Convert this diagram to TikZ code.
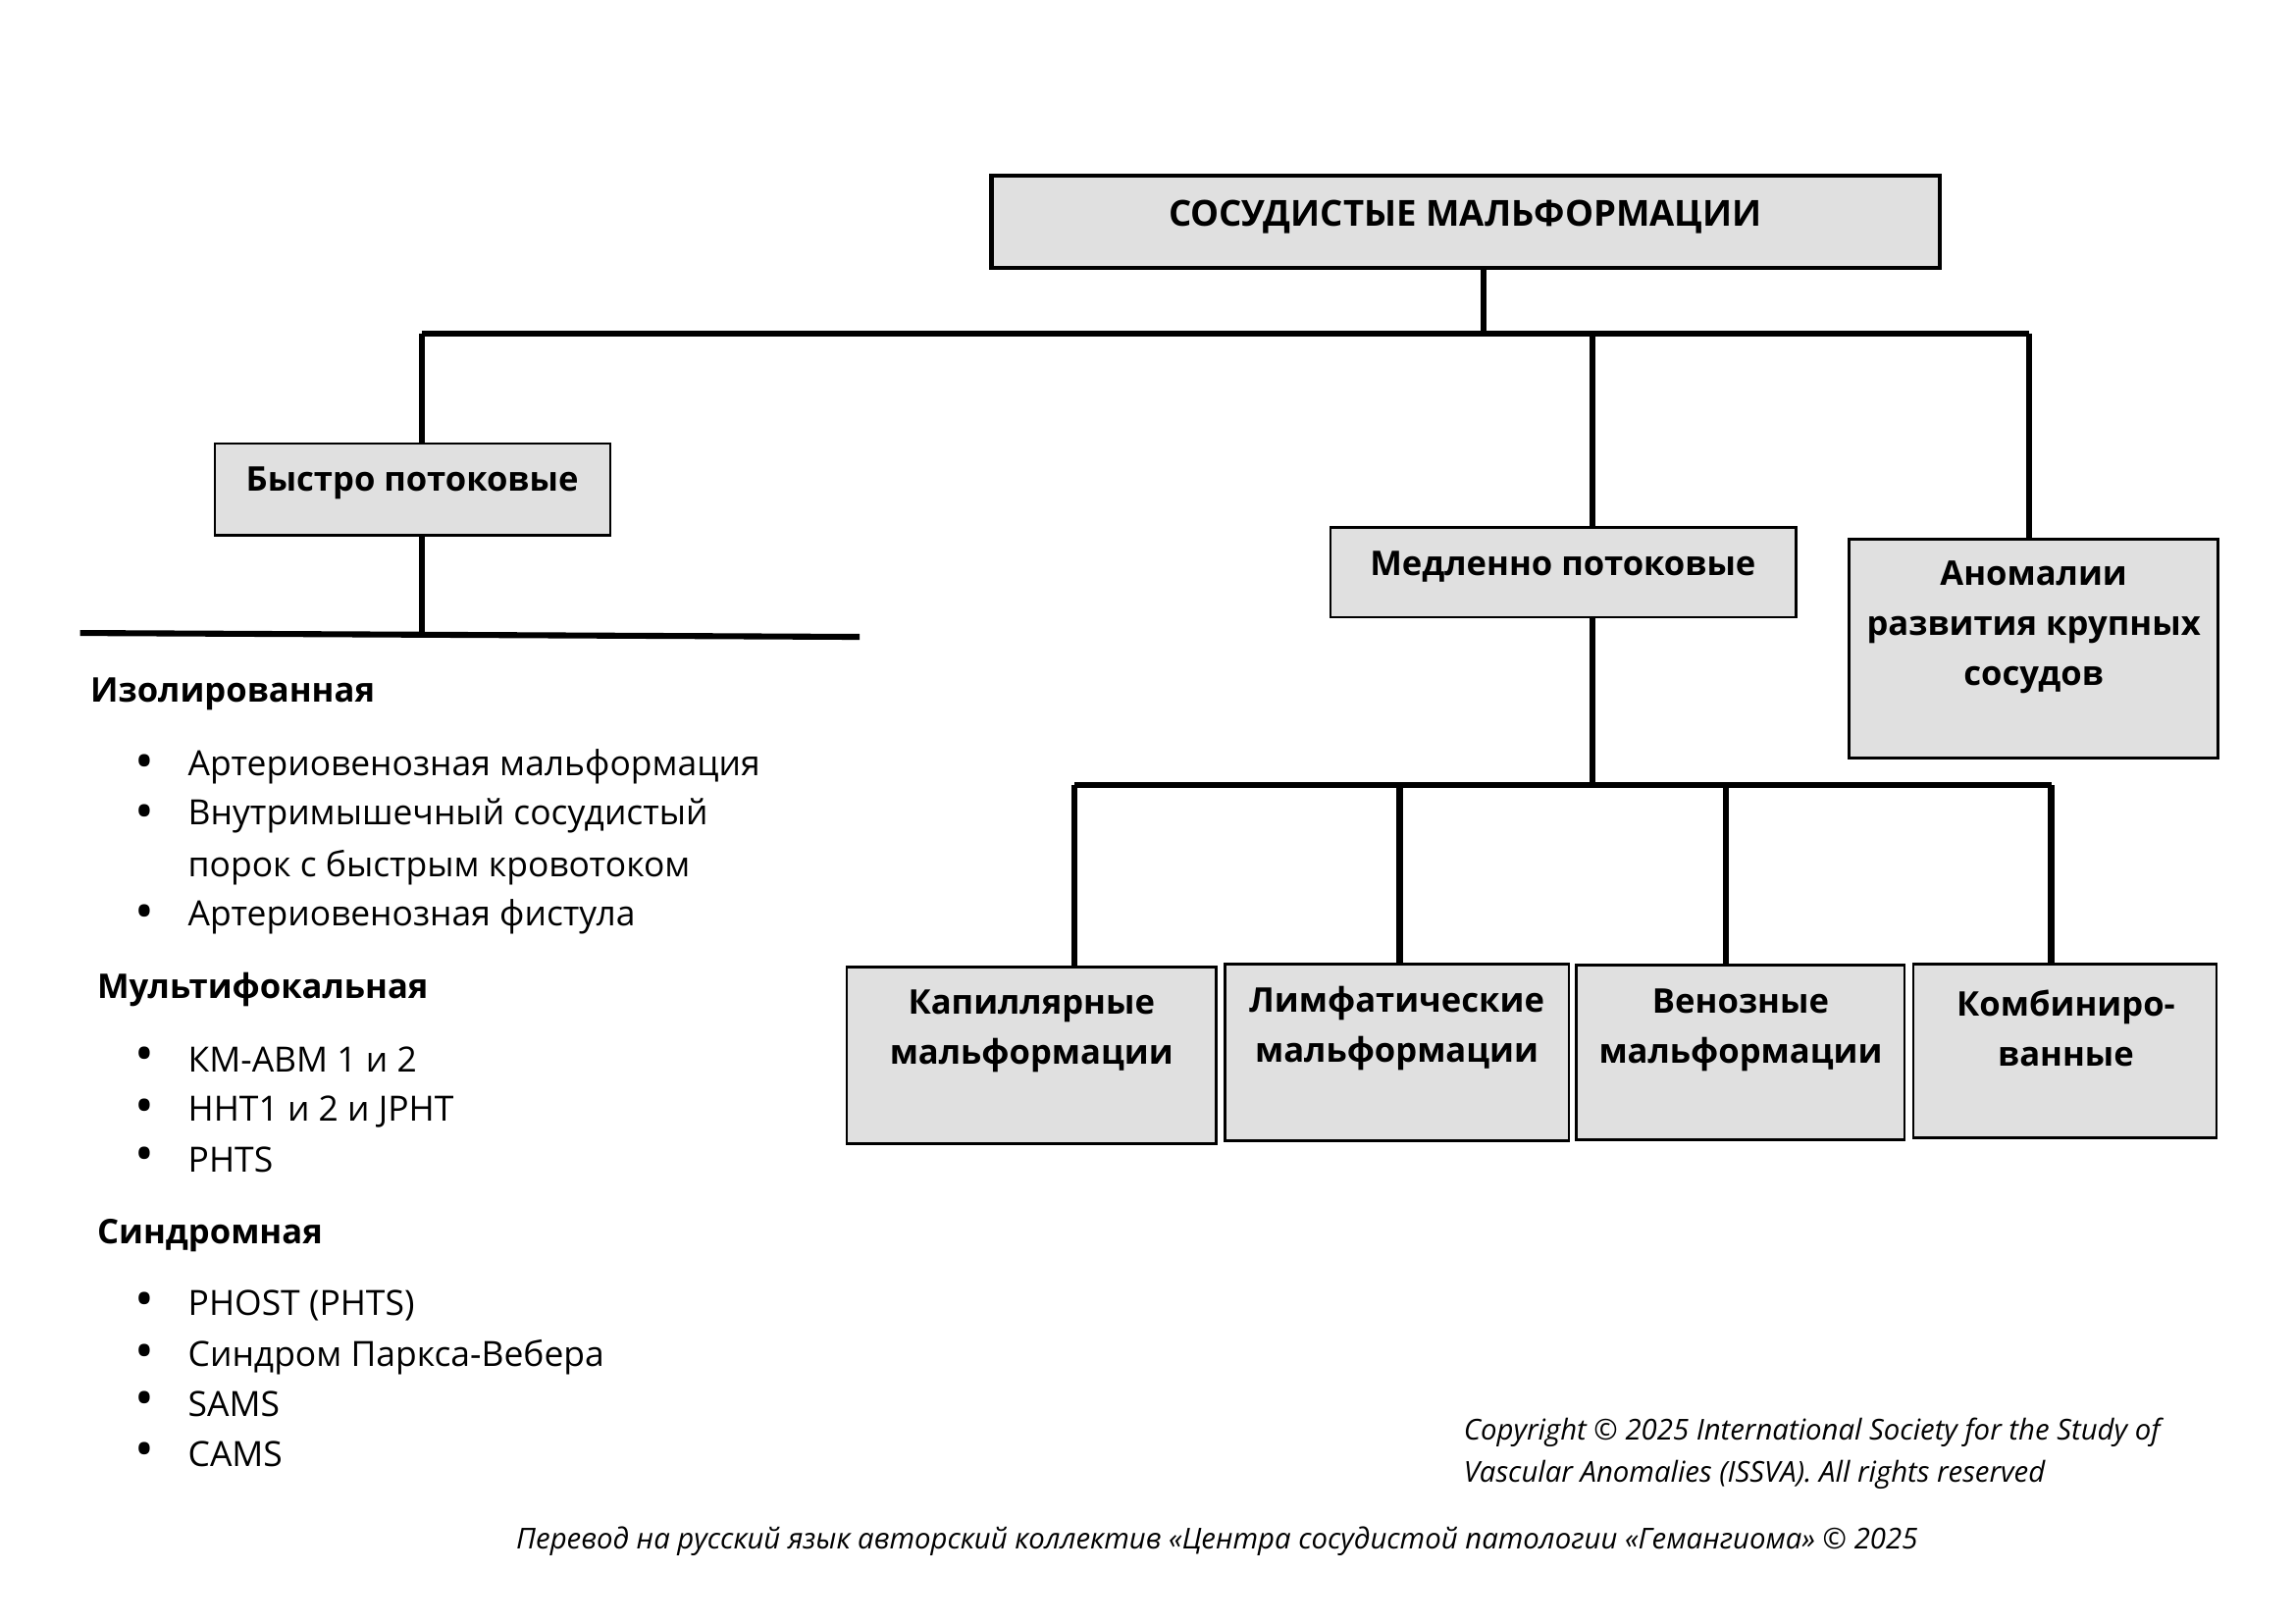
\documentclass[tikz,border=0pt]{standalone}
\usepackage{fontspec}
\setmainfont{Open Sans}
\usetikzlibrary{fit}
\definecolor{boxgray}{RGB}{224,224,224}
\tikzset{
  conn/.style={line width=2.2pt},
  box/.style={draw=black, fill=boxgray, line width=0.9pt, inner sep=0pt},
  topbox/.style={box, line width=1.6pt},
  boxtxt/.style={font=\bfseries\fontsize{12.5}{18.4}\selectfont, align=center, inner sep=0pt},
  roottxt/.style={boxtxt, font=\bfseries\fontsize{13.2}{18.4}\selectfont},
  head/.style={font=\bfseries\fontsize{12.5}{14}\selectfont, anchor=west, inner sep=0pt},
  item/.style={font=\fontsize{12.8}{19}\selectfont, anchor=west, align=left, inner sep=0pt},
  bul/.style={font=\fontsize{19}{20}\selectfont, inner sep=0pt},
  note/.style={font=\itshape\fontsize{10.6}{15.6}\selectfont, align=left, inner sep=0pt}
}
\begin{document}
\begin{tikzpicture}[x=0.0127cm, y=-0.0127cm]
\useasboundingbox (0,0) rectangle (2339,1654);
\begin{scope}[scale=0.9955]
% boxes
\node[topbox, fit={(1015,180)(1986,274)}] (root) {};
\node[roottxt] (rootT) at (1500,222) {СОСУДИСТЫЕ МАЛЬФОРМАЦИИ};
\node[box, fit={(220,454)(625,548)}] (fast) {};
\node[boxtxt] (fastT) at (422,495) {Быстро потоковые};
\node[box, fit={(1362,540)(1839,632)}] (slow) {};
\node[boxtxt] (slowT) at (1600,580) {Медленно потоковые};
\node[box, fit={(1893,552)(2271,776)}] (anom) {};
\node[boxtxt] (anomT) at (2082,642) {Аномалии\\развития крупных\\сосудов};
\node[box, fit={(867,990)(1245,1171)}] (cap) {};
\node[boxtxt] (capT) at (1056,1056) {Капиллярные\\мальформации};
\node[box, fit={(1254,987)(1606,1168)}] (lym) {};
\node[boxtxt] (lymT) at (1430,1053) {Лимфатические\\мальформации};
\node[box, fit={(1614,988)(1950,1167)}] (ven) {};
\node[boxtxt] (venT) at (1782,1055) {Венозные\\мальформации};
\node[box, fit={(1959,987)(2269,1165)}] (comb) {};
\node[boxtxt] (combT) at (2115,1053) {Комбиниро-\\ванные};
% connectors top
\coordinate (jT) at (1519,342);
\coordinate (jL) at (432,342);
\coordinate (jM) at (1630,342);
\coordinate (jR) at (2077,342);
\draw[conn] (root.south -| jT) -- (jT);
\draw[conn] (jL) -- (jR);
\draw[conn] (jL) -- (jL |- fast.north);
\draw[conn] (jM) -- (jM |- slow.north);
\draw[conn] (jR) -- (jR |- anom.north);
% fast-flow bar
\coordinate (barL) at (82,648);
\coordinate (barR) at (880,652);
\coordinate (barM) at (432,650);
\draw[conn] (fast.south -| barM) -- (barM);
\draw[conn] (barL) -- (barR);
% slow-flow bus
\coordinate (sM) at (1630,804);
\coordinate (b1) at (1100,804);
\coordinate (b2) at (1433,804);
\coordinate (b3) at (1767,804);
\coordinate (b4) at (2100,804);
\draw[conn] (slow.south -| sM) -- (sM);
\draw[conn] (b1) -- (b4);
\draw[conn] (b1) -- (b1 |- cap.north);
\draw[conn] (b2) -- (b2 |- lym.north);
\draw[conn] (b3) -- (b3 |- ven.north);
\draw[conn] (b4) -- (b4 |- comb.north);
% list
\node[head] (h1) at (92,710) {Изолированная};
\node[bul] (u1) at (148,785) {•};
\node[item] (i1) at (192,785) {Артериовенозная мальформация};
\node[bul] (u2) at (148,836) {•};
\node[item] (i2) at (192,862) {Внутримышечный сосудистый\\порок с быстрым кровотоком};
\node[bul] (u3) at (148,939) {•};
\node[item] (i3) at (192,939) {Артериовенозная фистула};
\node[head] (h2) at (99,1013) {Мультифокальная};
\node[bul] (u4) at (148,1085) {•};
\node[item] (i4) at (192,1085) {КМ-АВМ 1 и 2};
\node[bul] (u5) at (148,1138) {•};
\node[item] (i5) at (192,1138) {HHT1 и 2 и JPHT};
\node[bul] (u6) at (148,1187) {•};
\node[item] (i6) at (192,1187) {PHTS};
\node[head] (h3) at (99,1265) {Синдромная};
\node[bul] (u7) at (148,1336) {•};
\node[item] (i7) at (192,1336) {PHOST (PHTS)};
\node[bul] (u8) at (148,1389) {•};
\node[item] (i8) at (192,1389) {Синдром Паркса-Вебера};
\node[bul] (u9) at (148,1437) {•};
\node[item] (i9) at (192,1437) {SAMS};
\node[bul] (u10) at (148,1489) {•};
\node[item] (i10) at (192,1489) {CAMS};
% notes
\node[note, anchor=west] (copy) at (1498,1488) {Copyright © 2025 International Society for the Study of\\Vascular Anomalies (ISSVA). All rights reserved};
\node[note] (transl) at (1246,1578) {Перевод на русский язык авторский коллектив «Центра сосудистой патологии «Гемангиома» © 2025};
\end{scope}
\end{tikzpicture}
\end{document}
